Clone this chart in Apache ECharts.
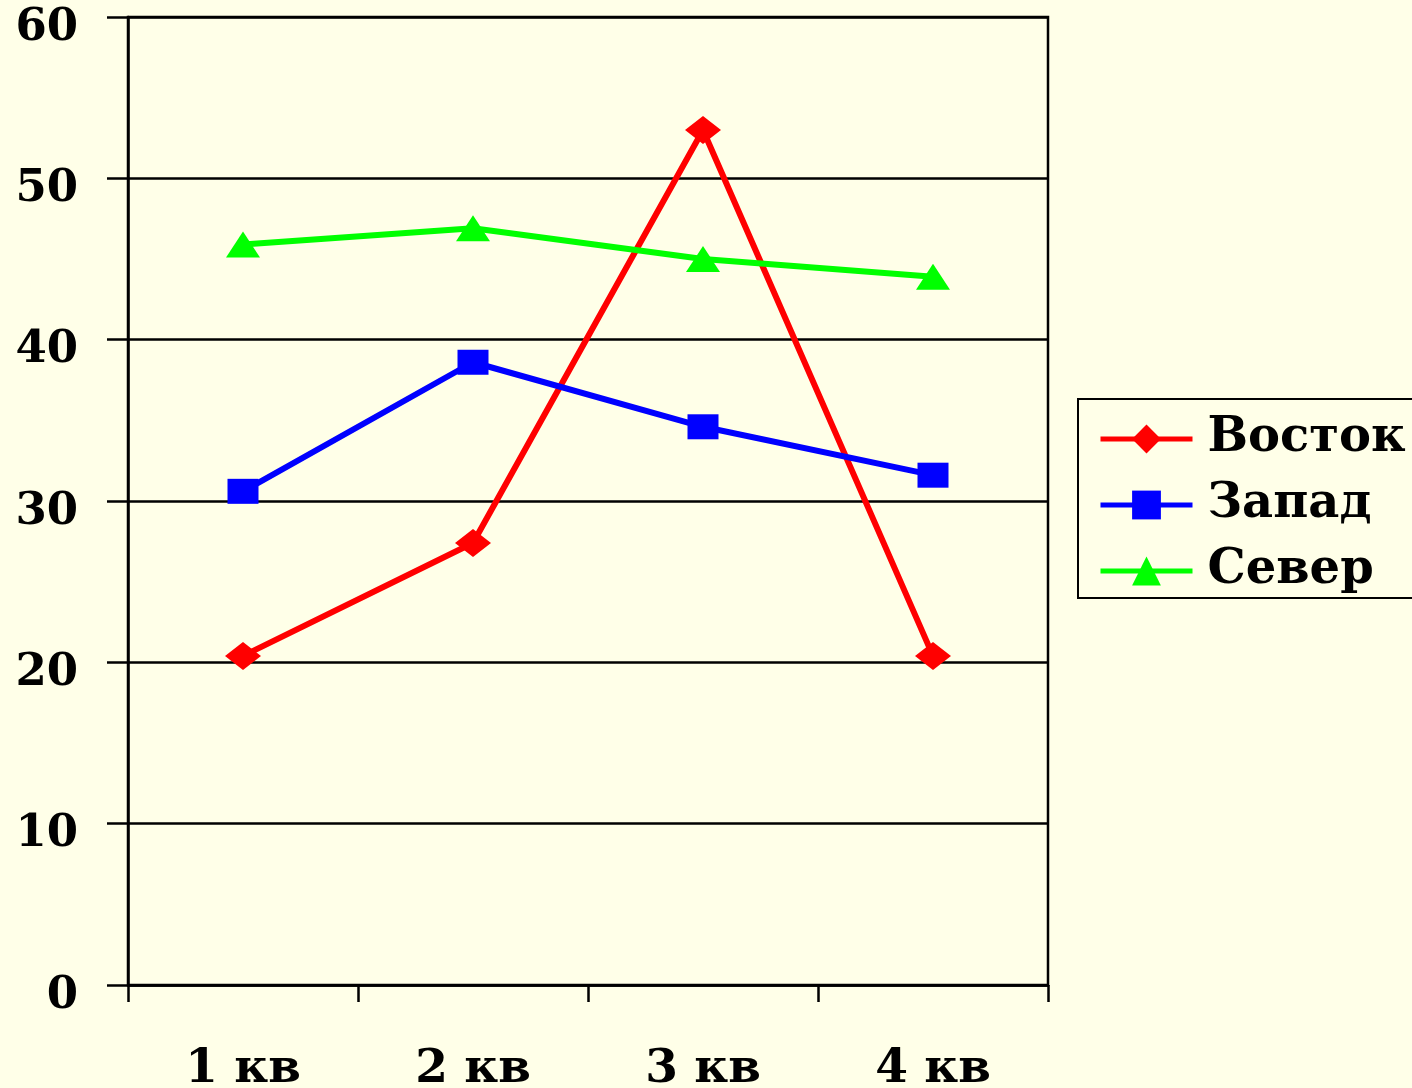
<!DOCTYPE html>
<html>
<head>
<meta charset="utf-8">
<style>
  html, body { margin: 0; padding: 0; background: #FFFFE8; }
  #chart { width: 1412px; height: 1088px; }
</style>
<script src="https://cdn.jsdelivr.net/npm/echarts@6/dist/echarts.min.js"></script>
</head>
<body>
<div id="chart"></div>
<script>
// Quarterly figures by region
const quarters = ['1 кв', '2 кв', '3 кв', '4 кв'];
const vostok = [20.4, 27.4, 53, 20.4];
const zapad = [30.6, 38.6, 34.6, 31.6];
const sever = [45.9, 46.9, 45, 43.9];

const FONT = '"DejaVu Serif", "Liberation Serif", serif';

const chart = echarts.init(document.getElementById('chart'), null, { renderer: 'canvas' });

function lineSeries(name, data, color, symbol, size) {
  return {
    name: name,
    type: 'line',
    data: data,
    symbol: symbol,
    symbolSize: size,
    showSymbol: true,
    lineStyle: { color: color, width: 6 },
    itemStyle: { color: color },
    emphasis: { disabled: true },
    animation: false
  };
}

chart.setOption({
  backgroundColor: '#FFFFE8',
  animation: false,
  textStyle: { fontFamily: FONT },
  grid: {
    left: 128, right: 364, top: 17, bottom: 103,
    outerBoundsMode: 'none',
    containLabel: false,
    show: true, borderColor: '#000', borderWidth: 2.5,
    backgroundColor: 'transparent'
  },
  legend: {
    orient: 'vertical',
    left: 1078, top: 399,
    padding: [15, 80, 2, 20],
    itemWidth: 92,
    itemHeight: 36,
    itemGap: 16,
    borderColor: '#000',
    borderWidth: 2,
    backgroundColor: '#FFFFE8',
    lineStyle: { width: 5 },
    textStyle: {
      fontFamily: FONT, fontWeight: 'bold', fontSize: 48, color: '#000',
      lineHeight: 50, padding: [0, 0, 0, 10]
    },
    data: ['Восток', 'Запад', 'Север']
  },
  xAxis: {
    type: 'category',
    data: quarters,
    boundaryGap: true,
    axisLine: { lineStyle: { color: '#000', width: 2.5 } },
    axisTick: { show: true, inside: false, length: 17, alignWithLabel: false,
                lineStyle: { color: '#000', width: 2.5 } },
    axisLabel: { fontFamily: FONT, fontWeight: 'bold', fontSize: 47, color: '#000', margin: 61 }
  },
  yAxis: {
    type: 'value',
    min: 0, max: 60, interval: 10,
    axisLine: { show: true, lineStyle: { color: '#000', width: 2.5 } },
    axisTick: { show: true, inside: false, length: 21, lineStyle: { color: '#000', width: 2.5 } },
    splitLine: { show: true, lineStyle: { color: '#000', width: 2.5 } },
    axisLabel: {
      margin: 50,
      formatter: function (v) { return '{v|' + v + '}'; },
      rich: {
        v: { fontFamily: FONT, fontWeight: 'bold', fontSize: 45, color: '#000',
             padding: [22, 0, 0, 0] }
      }
    }
  },
  series: [
    lineSeries('Восток', vostok, '#FF0000', 'diamond', [36, 28]),
    lineSeries('Запад', zapad, '#0000FF', 'rect', [31, 25]),
    lineSeries('Север', sever, '#00FF00', 'triangle', [34, 26])
  ]
});
</script>
</body>
</html>
